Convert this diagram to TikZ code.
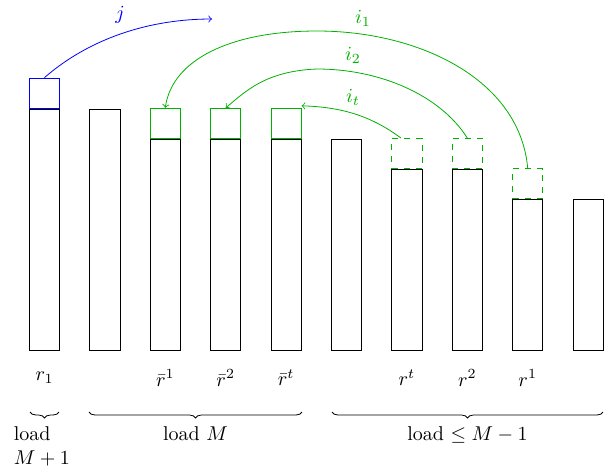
\documentclass[tikz,border=0pt]{standalone}
\usetikzlibrary{decorations.pathreplacing,calc}
\definecolor{grn}{RGB}{0,178,0}
\begin{document}
\begin{tikzpicture}[x=0.5pt,y=-0.5pt,
  bar/.style={draw,rectangle,inner sep=0pt,minimum width=15.1pt,anchor=south west},
  topbox/.style={bar,minimum height=15.1pt},
  lab/.style={inner sep=0pt},
  bracedec/.style={decorate,decoration={brace,mirror,amplitude=3pt}},
  arr/.style={->}]
\useasboundingbox (0,0) rectangle (612,468);
% bars
\foreach \i/\h in {1/8,2/8,3/7,4/7,5/7,6/7,7/6,8/6,9/5,10/5}
  \node[bar,minimum height=\h*15.1pt] (b\i) at ({29+60.4*(\i-1)},351) {};
% top boxes
\node[topbox,draw=blue] (t1) at (b1.north west) {};
\foreach \i in {3,4,5}
  \node[topbox,draw=grn] (g\i) at (b\i.north west) {};
\foreach \i in {7,8,9}
  \node[topbox,draw=grn,dashed] (d\i) at (b\i.north west) {};
% bar labels
\node[lab] (l1) at ([yshift=-13.5pt]b1.south) {$r_1$};
\node[lab] (l3) at ([yshift=-13.5pt]b3.south) {$\bar{r}^1$};
\node[lab] (l4) at ([yshift=-13.5pt]b4.south) {$\bar{r}^2$};
\node[lab] (l5) at ([yshift=-13.5pt]b5.south) {$\bar{r}^t$};
\node[lab] (l7) at ([yshift=-13.5pt]b7.south) {$r^t$};
\node[lab] (l8) at ([yshift=-13.5pt]b8.south) {$r^2$};
\node[lab] (l9) at ([yshift=-13.5pt]b9.south) {$r^1$};
% arrows
\coordinate (jend) at (212,19);
\draw[arr,blue] (t1.north) .. controls (90,38) and (150,19) .. (jend);
\node[lab,text=blue] (jl) at (120,15) {$j$};
\draw[grn] (d9.north) .. controls (520,80) and (420,31) .. (317,31);
\draw[arr,grn] (317,31) .. controls (230,31) and (172,60) .. (g3.north);
\node[lab,text=grn] (i1) at (363,18) {$i_1$};
\draw[grn] (d8.north) .. controls (440,95) and (380,69) .. (317,69);
\draw[arr,grn] (317,69) .. controls (265,71) and (245,92) .. (g4.north);
\node[lab,text=grn] (i2) at (353,55) {$i_2$};
\draw[arr,grn] ([xshift=-3pt]d7.north) .. controls (370,115) and (340,107) .. ([yshift=1pt]g5.north east);
\node[lab,text=grn] (it) at (353,97) {$i_t$};
% braces
\coordinate (a1) at (30,412);
\coordinate (a2) at (59,412);
\coordinate (a3) at (89,412);
\coordinate (a4) at (302,412);
\coordinate (a5) at (332,412);
\coordinate (a6) at (603,412);
\draw[bracedec] (a1) -- (a2);
\draw[bracedec] (a3) -- (a4);
\draw[bracedec] (a5) -- (a6);
\node[lab,align=left,anchor=north west] (m1) at (13.5,426) {load\\$M+1$};
\node[lab,anchor=base] (m2) at (195.5,440) {load $M$};
\node[lab,anchor=base] (m3) at (467.5,440) {load $\leq M-1$};
\end{tikzpicture}
\end{document}
